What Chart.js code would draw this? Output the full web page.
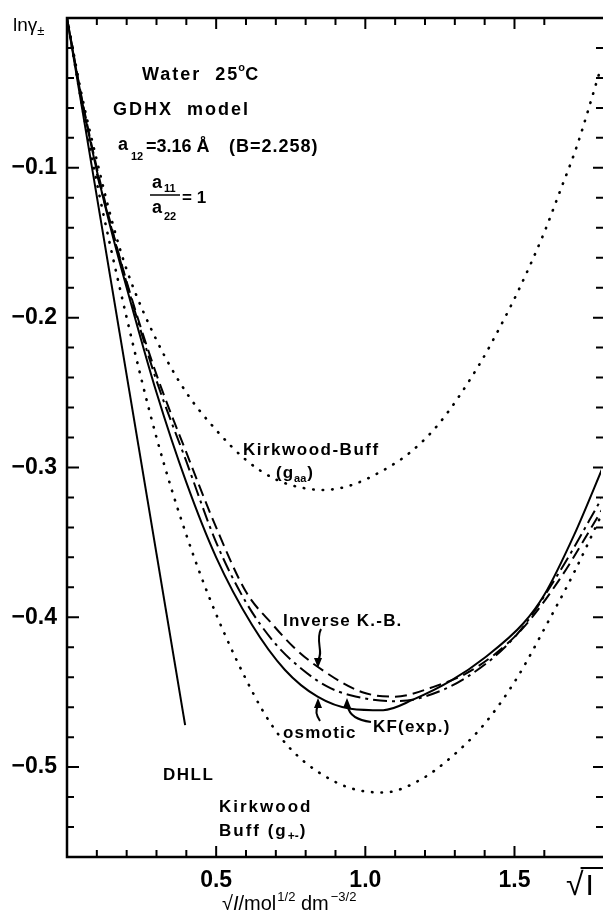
<!DOCTYPE html>
<html>
<head>
<meta charset="utf-8">
<script src="https://cdn.jsdelivr.net/npm/chart.js@4.4.1/dist/chart.umd.min.js"></script>
<style>
html, body { margin: 0; padding: 0; background: #fff; }
#wrap { width: 603px; height: 914px; position: relative; }
</style>
</head>
<body>
<div id="wrap"><canvas id="chart"></canvas></div>
<script>
// values: sqrt(I) on x, ln gamma± on y
const dhllX = [0, 0.396]
const dhllY = [0, -0.472]

const osmoticX = [0, 0.05, 0.1, 0.15, 0.2, 0.3, 0.4, 0.5, 0.62, 0.73, 0.84, 0.95, 1.06, 1.16, 1.29, 1.4, 1.53, 1.6, 1.7, 1.8]
const osmoticY = [0, -0.055, -0.102, -0.143, -0.18, -0.25, -0.31, -0.36, -0.405, -0.435, -0.453, -0.461, -0.462, -0.455, -0.442, -0.427, -0.404, -0.385, -0.345, -0.298]

const inverseKBX = [0, 0.05, 0.1, 0.15, 0.2, 0.3, 0.4, 0.5, 0.6, 0.69, 0.76, 0.84, 0.99, 1.1, 1.22, 1.36, 1.52, 1.65, 1.8]
const inverseKBY = [0, -0.054, -0.1, -0.14, -0.176, -0.238, -0.29, -0.34, -0.383, -0.405, -0.42, -0.433, -0.45, -0.453, -0.447, -0.435, -0.409, -0.375, -0.326]

const kfExpX = [0.1, 0.15, 0.2, 0.3, 0.4, 0.5, 0.6, 0.7, 0.79, 0.87, 0.95, 1.09, 1.18, 1.34, 1.51, 1.65, 1.8]
const kfExpY = [-0.104, -0.141, -0.177, -0.242, -0.296, -0.35, -0.39, -0.418, -0.435, -0.446, -0.452, -0.456, -0.454, -0.44, -0.411, -0.37, -0.318]

const kbAAX = [0, 0.05, 0.1, 0.15, 0.2, 0.3, 0.4, 0.5, 0.6, 0.7, 0.8, 0.86, 0.95, 1.05, 1.15, 1.25, 1.38, 1.46, 1.52, 1.6, 1.65, 1.71, 1.79]
const kbAAY = [0, -0.052, -0.095, -0.135, -0.168, -0.215, -0.25, -0.275, -0.295, -0.308, -0.314, -0.315, -0.312, -0.303, -0.29, -0.27, -0.232, -0.203, -0.179, -0.143, -0.117, -0.085, -0.033]

const kbPMX = [0, 0.05, 0.1, 0.2, 0.3, 0.4, 0.5, 0.63, 0.69, 0.75, 0.84, 0.95, 1.06, 1.18, 1.29, 1.4, 1.51, 1.61, 1.7, 1.8]
const kbPMY = [0, -0.058, -0.11, -0.2, -0.28, -0.345, -0.398, -0.453, -0.473, -0.488, -0.503, -0.514, -0.517, -0.509, -0.493, -0.471, -0.44, -0.404, -0.37, -0.328]

const xTickLabels = {5: '0.5', 10: '1.0', 15: '1.5'}
const yTickLabels = {10: '−0.1', 20: '−0.2', 30: '−0.3', 40: '−0.4', 50: '−0.5'}

const FONT = '"Liberation Sans", Arial, sans-serif'

function pts(xs, ys) {
    return xs.map((x, i) => ({x, y: ys[i]}))
}

function line(label, xs, ys, dash, width) {
    return {
        label,
        data: pts(xs, ys),
        showLine: true,
        borderColor: '#000',
        borderWidth: width || 2,
        borderDash: dash || [],
        borderCapStyle: dash && dash[0] < 1 ? 'round' : 'butt',
        pointRadius: 0,
        cubicInterpolationMode: 'monotone',
        fill: false,
    }
}

function txt(ctx, s, x, y, size, weight, ls) {
    ctx.font = `${weight || 'bold'} ${size}px ${FONT}`
    ctx.letterSpacing = (ls || 0) + 'px'
    ctx.textAlign = 'left'
    ctx.textBaseline = 'alphabetic'
    ctx.fillText(s, x, y)
    let w = ctx.measureText(s).width
    ctx.letterSpacing = '0px'
    return x + w
}

function head(ctx, x, y, dir) {
    // small filled arrow head, dir = -1 pointing up, 1 pointing down
    ctx.beginPath()
    ctx.moveTo(x, y)
    ctx.lineTo(x - 4, y - dir * 10)
    ctx.lineTo(x + 4, y - dir * 10)
    ctx.closePath()
    ctx.fill()
}

const framePlugin = {
    id: 'frame',
    afterDatasetsDraw(chart) {
        let ctx = chart.ctx
        let {left, right, top, bottom} = chart.chartArea
        let xs = chart.scales.x
        let ys = chart.scales.y
        ctx.save()
        ctx.strokeStyle = '#000'
        ctx.fillStyle = '#000'

        // frame: left, top, bottom
        ctx.lineWidth = 2.5
        ctx.beginPath()
        ctx.moveTo(right + 2, top)
        ctx.lineTo(left, top)
        ctx.lineTo(left, bottom)
        ctx.lineTo(right + 2, bottom)
        ctx.stroke()

        // inward ticks
        ctx.lineWidth = 2
        xs.ticks.forEach((t) => {
            let r = Math.round(t.value * 10)
            if (Math.abs(t.value * 10 - r) > 1e-6 || r === 0) return
            let px = xs.getPixelForValue(t.value)
            let len = r % 5 === 0 ? 11 : 7
            ctx.beginPath()
            ctx.moveTo(px, bottom)
            ctx.lineTo(px, bottom - len)
            ctx.moveTo(px, top)
            ctx.lineTo(px, top + len)
            ctx.stroke()
        })
        ys.ticks.forEach((t) => {
            let r = Math.round(t.value * 100)
            if (r === 0 || r === -56) return
            let py = ys.getPixelForValue(t.value)
            let len = r % 10 === 0 ? 12 : 7
            ctx.beginPath()
            ctx.moveTo(left, py)
            ctx.lineTo(left + len, py)
            ctx.moveTo(right + 2, py)
            ctx.lineTo(right + 2 - (r % 10 === 0 ? 10 : 7), py)
            ctx.stroke()
        })

        // axis captions
        let x = txt(ctx, 'lnγ', 13, 31, 19, 'normal')
        txt(ctx, '±', x, 35, 13, 'normal')

        x = txt(ctx, '√', 222, 910, 20, 'normal')
        ctx.font = `italic 20px ${FONT}`
        ctx.fillText('I', x, 910)
        x += ctx.measureText('I').width
        x = txt(ctx, '/mol', x, 910, 20, 'normal')
        x = txt(ctx, '1/2', x + 1, 901, 13, 'normal')
        x = txt(ctx, ' dm', x, 910, 20, 'normal')
        txt(ctx, '−3/2', x + 2, 901, 13, 'normal')

        x = txt(ctx, '√', 566, 895, 32, 'normal')
        ctx.lineWidth = 2
        ctx.beginPath()
        ctx.moveTo(x - 3, 868)
        ctx.lineTo(603, 868)
        ctx.stroke()
        txt(ctx, 'I', x + 2, 895, 30, 'normal')

        // model block
        x = txt(ctx, 'Water  25', 142, 80, 18, 'bold', 2)
        txt(ctx, 'o', x - 1, 71, 11, 'bold')
        txt(ctx, 'C', x + 6, 80, 18, 'bold', 2)
        txt(ctx, 'GDHX  model', 113, 115, 18, 'bold', 2)
        txt(ctx, 'a', 118, 150, 18, 'bold')
        txt(ctx, '12', 131, 160, 11, 'bold')
        txt(ctx, '=3.16 Å', 146, 152, 18, 'bold')
        txt(ctx, '(B=2.258)', 229, 152, 18, 'bold', 1)
        txt(ctx, 'a', 152, 188, 18, 'bold')
        txt(ctx, '11', 164, 192, 11, 'bold')
        ctx.lineWidth = 1.5
        ctx.beginPath()
        ctx.moveTo(150, 195)
        ctx.lineTo(180, 195)
        ctx.stroke()
        txt(ctx, 'a', 152, 213, 18, 'bold')
        txt(ctx, '22', 164, 220, 11, 'bold')
        txt(ctx, '= 1', 182, 203, 17, 'bold')

        // curve labels
        txt(ctx, 'Kirkwood-Buff', 243, 455, 17, 'bold', 1.5)
        x = txt(ctx, '(g', 276, 478, 17, 'bold', 1)
        x = txt(ctx, 'aa', x, 482, 11, 'bold')
        txt(ctx, ')', x + 1, 478, 17, 'bold')
        txt(ctx, 'Inverse K.-B.', 283, 626, 17, 'bold', 1.2)
        txt(ctx, 'osmotic', 283, 738, 17, 'bold', 1.2)
        txt(ctx, 'KF(exp.)', 373, 732, 17, 'bold', 1.2)
        txt(ctx, 'DHLL', 163, 780, 17, 'bold', 1.5)
        txt(ctx, 'Kirkwood', 219, 812, 17, 'bold', 2)
        x = txt(ctx, 'Buff (g', 219, 836, 17, 'bold', 2)
        x = txt(ctx, '+-', x, 840, 12, 'bold')
        txt(ctx, ')', x + 1, 836, 17, 'bold')

        // pointer arrows
        ctx.lineWidth = 2
        ctx.beginPath()
        ctx.moveTo(321, 629)
        ctx.bezierCurveTo(315, 641, 324, 652, 318, 660)
        ctx.stroke()
        head(ctx, 318, 668, 1)
        ctx.beginPath()
        ctx.moveTo(320, 721)
        ctx.quadraticCurveTo(314, 712, 318, 706)
        ctx.stroke()
        head(ctx, 318, 698, -1)
        ctx.beginPath()
        ctx.moveTo(371, 722)
        ctx.quadraticCurveTo(350, 719, 348, 707)
        ctx.stroke()
        head(ctx, 347, 698, -1)

        ctx.restore()
    },
}

new Chart(
    document.getElementById('chart'),
    {
        type: 'scatter',
        data: {
            datasets: [
                line('DHLL', dhllX, dhllY, null, 2),
                line('osmotic', osmoticX, osmoticY, null, 2),
                line('Inverse K.-B.', inverseKBX, inverseKBY, [12, 6], 2),
                line('KF(exp.)', kfExpX, kfExpY, [14, 5, 3, 5], 2),
                line('Kirkwood-Buff (gaa)', kbAAX, kbAAY, [0.5, 9], 2.6),
                line('Kirkwood Buff (g+-)', kbPMX, kbPMY, [0.5, 9], 2.6),
            ],
        },
        options: {
            responsive: true,
            maintainAspectRatio: false,
            animation: false,
            devicePixelRatio: 1,
            layout: {padding: {top: 18, right: 2, left: 0, bottom: 0}},
            plugins: {
                legend: {display: false},
                tooltip: {enabled: false},
            },
            scales: {
                x: {
                    type: 'linear',
                    min: 0,
                    max: 1.79,
                    afterFit(scale) {
                        scale.height = 57
                    },
                    grid: {display: false},
                    border: {display: false},
                    ticks: {
                        stepSize: 0.1,
                        autoSkip: false,
                        maxRotation: 0,
                        padding: 2,
                        color: '#000',
                        font: {family: FONT, size: 23, weight: 'bold'},
                        callback(v) {
                            return xTickLabels[Math.round(v * 10)] || ''
                        },
                    },
                },
                y: {
                    type: 'linear',
                    min: -0.56,
                    max: 0,
                    afterFit(scale) {
                        scale.width = 67
                    },
                    grid: {display: false},
                    border: {display: false},
                    ticks: {
                        stepSize: 0.02,
                        autoSkip: false,
                        padding: 2,
                        color: '#000',
                        font: {family: FONT, size: 23, weight: 'bold'},
                        callback(v) {
                            return yTickLabels[-Math.round(v * 100)] || ''
                        },
                    },
                },
            },
        },
        plugins: [framePlugin],
    },
)
</script>
</body>
</html>
